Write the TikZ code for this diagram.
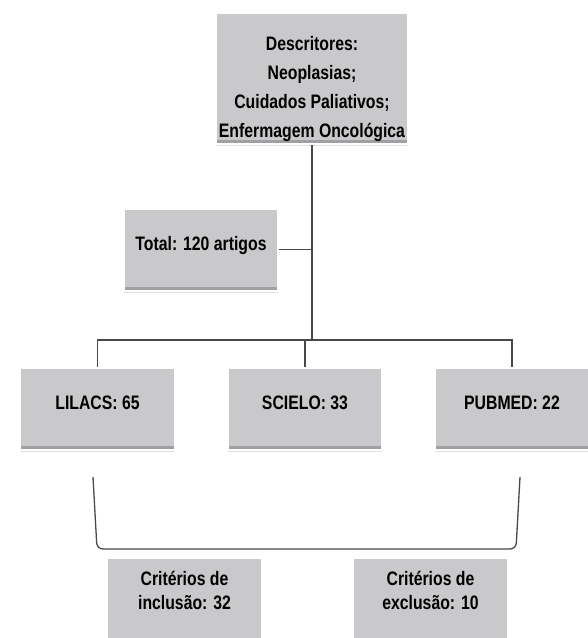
\documentclass[tikz,border=0pt]{standalone}
\usepackage{fontspec}
\setmainfont{Liberation Sans}[FakeStretch=0.81]
\usepackage{tikz}
\usetikzlibrary{arrows,positioning,shadows}

\definecolor{boxgray}{RGB}{201,200,202}
\definecolor{boxdark}{RGB}{160,159,161}
\definecolor{linegray}{RGB}{72,72,72}

\begin{document}
\begin{tikzpicture}[x=1pt,y=-1pt,
    box/.style={anchor=north,draw=white,line width=1.5pt,
        fill=boxgray,
        drop shadow={shadow xshift=0pt,shadow yshift=-2pt,opacity=0.25},
        path picture={\fill[boxdark] ([yshift=4pt]path picture bounding box.south west)
            rectangle (path picture bounding box.south east);},
        minimum width=154pt,inner sep=0pt,align=center,
        font=\fontsize{19.5}{24}\selectfont\bfseries},
    onebox/.style={box,text height=42pt,text depth=40pt},
    link/.style={draw=linegray,line width=1.3pt}]
    \useasboundingbox (0,0) rectangle (588,638);

    \node[box,minimum width=192pt,text height=125pt,text depth=6pt,
        font=\fontsize{19.5}{29}\selectfont\bfseries] (top) at (312,12)
        {Descritores:\\Neoplasias;\\Cuidados Paliativos;\\Enfermagem Oncológica};

    \node[onebox] (tot) at (201,208) {Total: 120 artigos};

    \node[onebox] (lil) at (97.5,367) {LILACS: 65};
    \node[onebox] (sci) at (305,367) {SCIELO: 33};
    \node[onebox] (pub) at (512,367) {PUBMED: 22};

    \node[box,text height=52pt,text depth=51pt] (inc) at (184.5,557) {Critérios de\\inclusão: 32};
    \node[box,text height=52pt,text depth=51pt] (exc) at (430.5,557) {Critérios de\\exclusão: 10};

    \coordinate (hub) at (312,340);
    \coordinate (bl) at (93,477);
    \coordinate (br) at (520,477);

    \draw[link] (top.south) -- (hub);
    \draw[link] (tot.east) -- (tot.east -| top.south);
    \draw[link] (lil.north) |- (hub) -| (pub.north);
    \draw[link] (sci.north) -- (sci.north |- hub);

    \draw[link,rounded corners=6pt] (bl) -- (97,549) -- (516,549) -- (br);
\end{tikzpicture}
\end{document}
